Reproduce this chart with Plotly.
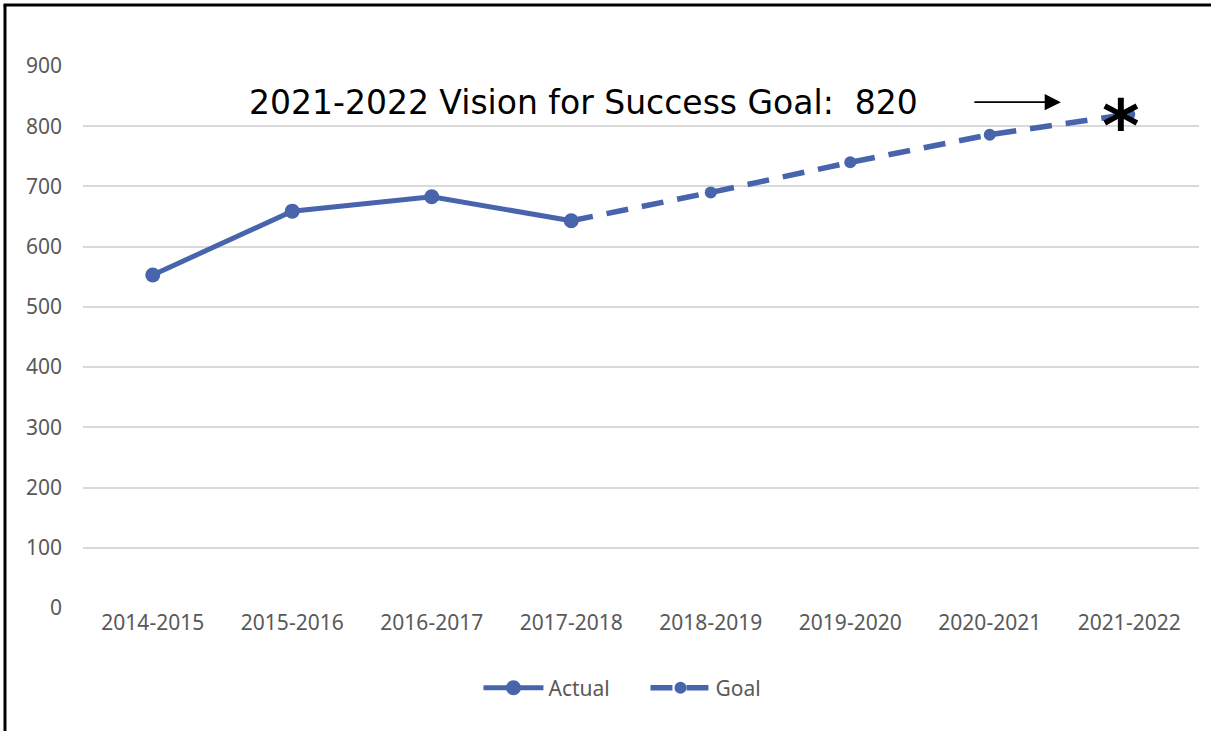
import plotly.graph_objects as go

# School years on the category axis
years = ["2014-2015", "2015-2016", "2016-2017", "2017-2018",
         "2018-2019", "2019-2020", "2020-2021", "2021-2022"]

# Observed counts
actual_years = years[:4]
actual_values = [553, 659, 683, 643]

# Projected path toward the 2021-2022 target
goal_target = 820
goal_years = years[3:]
goal_values = [643, 690, 740, 786, goal_target]

y_ticks = [0, 100, 200, 300, 400, 500, 600, 700, 800, 900]

BLUE = "#4864AC"
TICK_GREY = "#595959"
GRID = "#D9D9D9"
TICK_FONT = dict(family="Noto Sans, Open Sans, sans-serif", size=21, color=TICK_GREY)

fig = go.Figure()

fig.add_trace(go.Scatter(
    x=actual_years, y=actual_values, name="Actual",
    mode="lines+markers",
    line=dict(color=BLUE, width=5),
    marker=dict(color=BLUE, size=15),
))

fig.add_trace(go.Scatter(
    x=goal_years, y=goal_values, name="Goal",
    mode="lines+markers",
    line=dict(color=BLUE, width=5.5, dash="22px,14px"),
    marker=dict(color=BLUE, size=12),
))

# Handwritten-style callout, arrow and asterisk at the target year
fig.add_annotation(
    x=3.086, y=840, xref="x", yref="y",
    text=f"2021-2022 Vision for Success Goal:  {goal_target}",
    showarrow=False,
    font=dict(family="DejaVu Sans, sans-serif", size=33, color="#000000"),
)
fig.add_annotation(
    x=6.51, y=840, xref="x", yref="y",
    ax=-88, ay=0, axref="pixel", ayref="pixel",
    text="", showarrow=True,
    arrowhead=2, arrowsize=1.8, arrowwidth=1.8, arrowcolor="#000000",
)
fig.add_annotation(
    x=years[-1], y=goal_target, xref="x", yref="y",
    text="<b>*</b>", showarrow=False,
    font=dict(family="DejaVu Sans, sans-serif", size=72, color="#000000"),
    yshift=-12, xshift=-8,
)

# Black frame on the left and top edges of the chart area
fig.add_shape(type="line", xref="paper", yref="paper",
              x0=-0.0699, x1=-0.0699, y0=1.1125, y1=-0.24,
              line=dict(color="#000000", width=3))
fig.add_shape(type="line", xref="paper", yref="paper",
              x0=-0.0712, x1=1.02, y0=1.1125, y1=1.1125,
              line=dict(color="#000000", width=3))

fig.update_layout(
    width=1211, height=731,
    margin=dict(l=83, r=12, t=66, b=123),
    paper_bgcolor="#FFFFFF", plot_bgcolor="#FFFFFF",
    showlegend=True,
    legend=dict(
        orientation="h", x=0.504, xanchor="center", y=-0.11, yanchor="top",
        font=TICK_FONT, itemwidth=60, entrywidth=92,
    ),
    xaxis=dict(
        type="category", categoryorder="array", categoryarray=years,
        range=[-0.5, 7.5], showgrid=False, zeroline=False,
        showline=False, ticks="", tickfont=TICK_FONT,
    ),
    yaxis=dict(
        range=[0, 900], tickvals=y_ticks, showgrid=True, gridcolor=GRID,
        gridwidth=1.5, zeroline=False, showline=False, ticks="",
        tickfont=TICK_FONT, ticklabelstandoff=20,
    ),
)

fig.write_html("out.html")
